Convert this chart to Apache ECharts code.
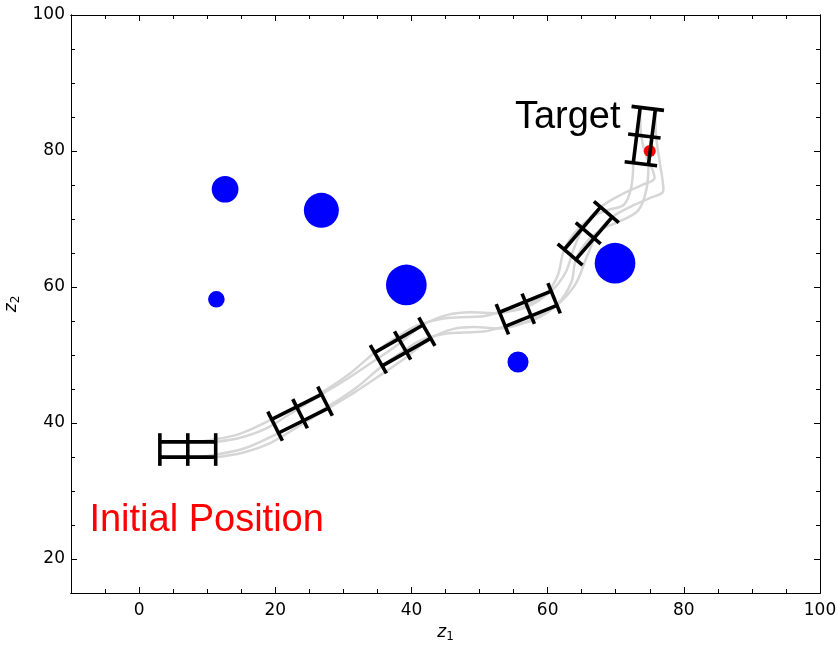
<!DOCTYPE html>
<html><head><meta charset="utf-8">
<script src="https://cdn.jsdelivr.net/npm/echarts@6/dist/echarts.min.js"></script>
<style>html,body{margin:0;padding:0;background:#fff}#c{width:838px;height:647px}</style>
</head><body><div id="c"></div>
<script>
// ---- data ----
const xMajorTicks = [0, 20, 40, 60, 80, 100];
const xMinorTicks = [-5, 5, 10, 15, 25, 30, 35, 45, 50, 55, 65, 70, 75, 85, 90, 95];
const yMajorTicks = [20, 40, 60, 80, 100];
const yMinorTicks = [25, 30, 35, 45, 50, 55, 65, 70, 75, 85, 90, 95];

const obstacleX = [12.63, 26.77, 39.25, 11.35, 55.65, 69.9];
const obstacleY = [74.37, 71.28, 60.3, 58.19, 48.97, 63.5];
const obstacleR = [1.96, 2.57, 2.99, 1.22, 1.55, 2.99];

const targetPoint = [75.0, 80.0];

// vehicle poses drawn (x, y, heading in degrees)
const poseX = [7.15, 23.64, 38.7, 57.15, 65.96, 74.2];
const poseY = [36.1, 41.37, 51.4, 56.8, 67.9, 82.2];
const poseHeading = [0, 26.6, 29.7, 22.2, 49.5, 82.9];

// vehicle centre path (x, y, heading in degrees)
const pathX = [7.15, 11, 15, 19, 23.64, 27.5, 31.5, 35, 38.7, 42, 45, 48.5, 51.5, 54.5, 57.15, 60.2, 62.6, 64.4, 65.96, 68.5, 71, 73, 73.8, 74.1, 74.2];
const pathY = [36.1, 36.4, 37.3, 38.9, 41.37, 43.5, 46, 48.4, 51.4, 53.2, 54.2, 54.6, 55, 55.7, 56.8, 58.6, 61.5, 64.8, 67.9, 70.3, 71.8, 72.8, 75.5, 78.5, 82.2];
const pathHeading = [0, 5, 12, 22, 26.6, 29, 31, 31, 29.7, 24, 14, 6, 8, 16, 22.2, 40, 58, 62, 49.5, 38, 33, 35, 68, 80, 82.9];

const annotations = [
  { text: 'Target', x: 55.2, y: 84.9, color: '#000000' },
  { text: 'Initial Position', x: -7.3, y: 25.6, color: '#ff0000' }
];

// ---- vehicle geometry constants (data units) ----
const HALF_LEN = 4.1, HALF_TRACK = 1.125, HALF_AXLE = 2.4;
const rad = d => d * Math.PI / 180;

function wheelTrace(along, side) {
  return pathX.map((x, i) => {
    const t = rad(pathHeading[i]);
    const c = Math.cos(t), s = Math.sin(t);
    return [x + along * c - side * s, pathY[i] + along * s + side * c];
  });
}

const traceSeries = [];
[[HALF_LEN, HALF_TRACK], [HALF_LEN, -HALF_TRACK], [-HALF_LEN, HALF_TRACK], [-HALF_LEN, -HALF_TRACK]].forEach(w => {
  traceSeries.push({
    type: 'line', data: wheelTrace(w[0], w[1]), smooth: 0.35, symbol: 'none',
    lineStyle: { color: '#d6d6d6', width: 2.5 }, z: 2, silent: true
  });
});

const robotData = poseX.map((x, i) => [x, poseY[i], poseHeading[i]]);
const obstacleData = obstacleX.map((x, i) => [x, obstacleY[i], obstacleR[i]]);

const axisCommon = {
  type: 'value', splitLine: { show: false },
  axisLine: { show: true, onZero: false, lineStyle: { color: '#000', width: 1 } }
};
const xBase = { ...axisCommon, min: -10, max: 100 };
const yBase = { ...axisCommon, min: 15, max: 100 };
const tickFont = { color: '#000', fontSize: 17, fontFamily: 'DejaVu Sans' };
const nameRich = { rich: {
  i: { fontStyle: 'italic', fontSize: 17, fontFamily: 'DejaVu Sans', color: '#000' },
  s: { fontSize: 12, fontFamily: 'DejaVu Sans', color: '#000', padding: [8, 0, 0, 0] } } };

const option = {
  animation: false,
  backgroundColor: '#ffffff',
  grid: { left: 71, right: 18, top: 15, bottom: 54, containLabel: false, outerBoundsMode: 'none' },
  xAxis: [
    { ...xBase, position: 'bottom',
      axisTick: { show: true, inside: true, length: 6, customValues: xMajorTicks, lineStyle: { color: '#000' } },
      axisLabel: { show: true, margin: 9, customValues: xMajorTicks, ...tickFont },
      name: '{i|z}{s|1}', nameLocation: 'middle', nameGap: 30, nameTextStyle: nameRich },
    { ...xBase, position: 'bottom', axisLabel: { show: false },
      axisTick: { show: true, inside: true, length: 4, customValues: xMinorTicks, lineStyle: { color: '#000' } } },
    { ...xBase, position: 'top', axisLabel: { show: false },
      axisTick: { show: true, inside: true, length: 6, customValues: xMajorTicks, lineStyle: { color: '#000' } } },
    { ...xBase, position: 'top', axisLabel: { show: false },
      axisTick: { show: true, inside: true, length: 4, customValues: xMinorTicks, lineStyle: { color: '#000' } } }
  ],
  yAxis: [
    { ...yBase, position: 'left',
      axisTick: { show: true, inside: true, length: 6, customValues: yMajorTicks, lineStyle: { color: '#000' } },
      axisLabel: { show: true, margin: 6, customValues: yMajorTicks, ...tickFont },
      name: '{i|z}{s|2}', nameLocation: 'middle', nameGap: 44, nameTextStyle: nameRich },
    { ...yBase, position: 'left', axisLabel: { show: false },
      axisTick: { show: true, inside: true, length: 4, customValues: yMinorTicks, lineStyle: { color: '#000' } } },
    { ...yBase, position: 'right', axisLabel: { show: false },
      axisTick: { show: true, inside: true, length: 6, customValues: yMajorTicks, lineStyle: { color: '#000' } } },
    { ...yBase, position: 'right', axisLabel: { show: false },
      axisTick: { show: true, inside: true, length: 4, customValues: yMinorTicks, lineStyle: { color: '#000' } } }
  ],
  series: [
    ...traceSeries,
    { type: 'custom', data: obstacleData, z: 3, silent: true,
      renderItem: (params, api) => {
        const c = api.coord([api.value(0), api.value(1)]);
        const r = api.size([api.value(2), api.value(2)]);
        return { type: 'circle', shape: { cx: c[0], cy: c[1], r: (r[0] + r[1]) / 2 }, style: { fill: '#0000ff' } };
      } },
    { type: 'scatter', data: [targetPoint], symbolSize: 12, itemStyle: { color: '#ff0000', opacity: 1 }, z: 4, silent: true },
    { type: 'custom', data: robotData, z: 5, silent: true,
      renderItem: (params, api) => {
        const x = api.value(0), y = api.value(1), t = rad(api.value(2));
        const c = Math.cos(t), s = Math.sin(t);
        const P = (a, b) => api.coord([x + a * c - b * s, y + a * s + b * c]);
        const seg = (p1, p2) => ({ type: 'line', shape: { x1: p1[0], y1: p1[1], x2: p2[0], y2: p2[1] },
          style: { stroke: '#000', lineWidth: 3.6, lineCap: 'butt' } });
        const children = [
          seg(P(-HALF_LEN, HALF_TRACK), P(HALF_LEN, HALF_TRACK)),
          seg(P(-HALF_LEN, -HALF_TRACK), P(HALF_LEN, -HALF_TRACK)),
          seg(P(-HALF_LEN, -HALF_AXLE), P(-HALF_LEN, HALF_AXLE)),
          seg(P(0, -HALF_AXLE), P(0, HALF_AXLE)),
          seg(P(HALF_LEN, -HALF_AXLE), P(HALF_LEN, HALF_AXLE))
        ];
        return { type: 'group', children };
      } },
    { type: 'scatter', symbolSize: 0, z: 6, silent: true, itemStyle: { opacity: 1 },
      data: annotations.map(a => ({ value: [a.x, a.y], label: { color: a.color } })),
      label: { show: true, position: 'inside', align: 'left', verticalAlign: 'middle',
        fontSize: 38, fontFamily: 'Liberation Sans', textBorderWidth: 0, opacity: 1,
        formatter: p => annotations[p.dataIndex].text } }
  ]
};
const chart = echarts.init(document.getElementById('c'), null, { renderer: 'canvas' });
chart.setOption(option);
</script>
</body></html>
